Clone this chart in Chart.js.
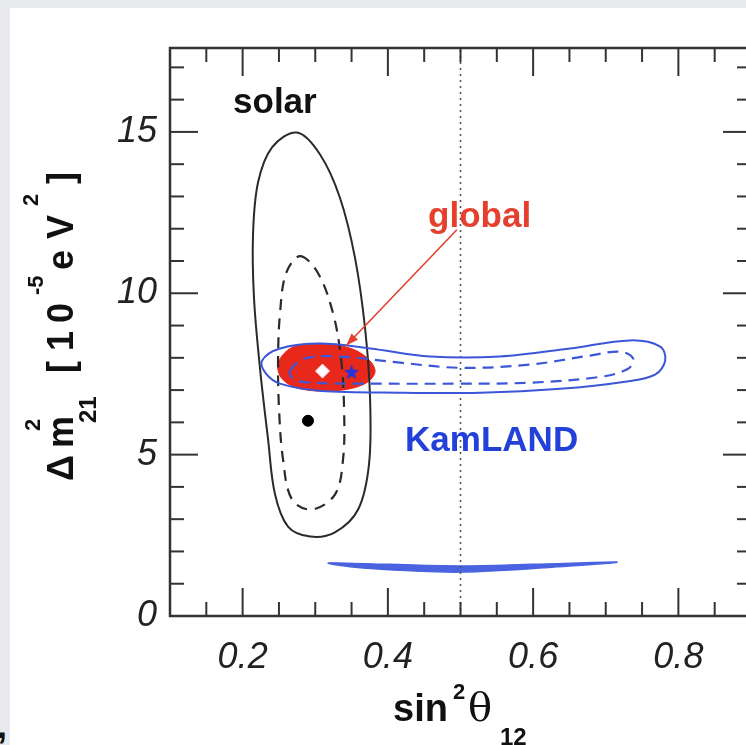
<!DOCTYPE html>
<html>
<head>
<meta charset="utf-8">
<script src="https://cdn.jsdelivr.net/npm/chart.js@4.4.1/dist/chart.umd.min.js"></script>
<style>
  html, body { margin: 0; padding: 0; width: 746px; height: 745px; overflow: hidden; background: #e7e9ed; }
  #sheet { position: absolute; left: 10px; top: 8px; width: 770px; height: 737px; background: #fff; overflow: hidden; }
  #plot { position: absolute; left: -10px; top: -8px; }
  #comma { position: absolute; left: -3px; top: 705px; font: bold 36px "Liberation Sans", Arial, sans-serif; color: #111; }
</style>
</head>
<body>
<div id="sheet"><canvas id="plot" width="780" height="745"></canvas></div>
<div id="comma">,</div>
<script>
// axes: sin^2(theta12) vs dm^2_21 [1e-5 eV^2]
const xRange = [0.1, 0.9];
const yRange = [0, 17.6];
const xTicks = [0.15, 0.2, 0.25, 0.3, 0.35, 0.4, 0.45, 0.5, 0.55, 0.6, 0.65, 0.7, 0.75, 0.8, 0.85];
const xLabelTicks = [0.2, 0.4, 0.6, 0.8];
const yTicks = [1, 2, 3, 4, 5, 6, 7, 8, 9, 10, 11, 12, 13, 14, 15, 16, 17];
const yLabelTicks = [0, 5, 10, 15];

// solar contours
const solarOuterX = [0.275, 0.3066, 0.334, 0.3548, 0.3686, 0.3755, 0.374, 0.359, 0.327, 0.293, 0.2625, 0.2446, 0.235, 0.224, 0.2157, 0.2143, 0.2212, 0.2405];
const solarOuterY = [14.98, 14.30, 12.96, 11.09, 8.91, 6.73, 4.70, 3.30, 2.59, 2.46, 2.77, 3.77, 5.48, 7.66, 9.84, 11.81, 13.43, 14.52];
const solarInnerX = [0.279, 0.3039, 0.3245, 0.3355, 0.3397, 0.3383, 0.3273, 0.2956, 0.268, 0.2556, 0.2501, 0.2488, 0.2515, 0.2598];
const solarInnerY = [11.15, 10.62, 9.38, 7.98, 6.42, 4.86, 3.77, 3.30, 3.61, 4.86, 6.42, 7.98, 9.38, 10.62];

// global fit region
const globalX = [0.2488, 0.2653, 0.2928, 0.3342, 0.3658, 0.3824, 0.3686, 0.3273, 0.279, 0.2543];
const globalY = [7.82, 8.29, 8.44, 8.38, 8.10, 7.60, 7.20, 6.98, 7.04, 7.35];

// KamLAND contours
const kamOuterX = [0.2267, 0.2515, 0.3066, 0.3755, 0.4581, 0.5545, 0.651, 0.7336, 0.775, 0.7818, 0.768, 0.7267, 0.6372, 0.527, 0.4168, 0.3066, 0.2515, 0.2322];
const kamOuterY = [7.91, 8.29, 8.44, 8.29, 8.04, 8.04, 8.29, 8.54, 8.35, 7.91, 7.48, 7.26, 7.04, 6.92, 6.92, 6.98, 7.20, 7.51];
const kamInnerX = [0.2653, 0.286, 0.3342, 0.4168, 0.4994, 0.5959, 0.6785, 0.7198, 0.7377, 0.7308, 0.6923, 0.5959, 0.4994, 0.3893, 0.2928, 0.2694];
const kamInnerY = [7.60, 7.98, 8.04, 7.85, 7.69, 7.79, 8.07, 8.19, 7.98, 7.66, 7.41, 7.23, 7.20, 7.20, 7.23, 7.35];
const kamLowX = [0.318, 0.400, 0.500, 0.600, 0.715, 0.650, 0.500, 0.370];
const kamLowY = [1.64, 1.60, 1.55, 1.60, 1.67, 1.55, 1.36, 1.48];

// best fit points
const solarBest = [0.29, 6.05];
const globalBest = [0.31, 7.59];
const kamBest = [0.35, 7.56];

// arrow from label to global region, maximal mixing line
const arrowX = [0.495, 0.343];
const arrowY = [11.97, 8.39];
const maxMixX = [0.5, 0.5];
const maxMixY = [0, 17.6];

// label anchors (data coords)
const solarLabel = [0.1868, 15.6];
const globalLabel = [0.4554, 12.06];
const kamLabel = [0.4237, 5.12];

const BLACK = "#2a2a2a";
const BLUE = "#3b56d9";
const RED = "#e8281a";
const SANS = '"Liberation Sans", Arial, sans-serif';

const toPts = (xs, ys) => xs.map((x, i) => ({ x: x, y: ys[i] }));

// filled blue star for the KamLAND best fit
const starImg = document.createElement("canvas");
starImg.width = 16;
starImg.height = 16;
(function () {
  const c = starImg.getContext("2d");
  c.fillStyle = "#2233dd";
  c.beginPath();
  for (let k = 0; k < 10; k++) {
    const r = k % 2 === 0 ? 8 : 3.4;
    const a = -Math.PI / 2 + (k * Math.PI) / 5;
    c.lineTo(8 + r * Math.cos(a), 8.5 + r * Math.sin(a));
  }
  c.closePath();
  c.fill();
})();

// make contour lines closed curves
const closedLoops = {
  id: "closedLoops",
  afterDatasetsUpdate(chart) {
    chart.data.datasets.forEach((ds, i) => {
      if (!ds.closed) return;
      const line = chart.getDatasetMeta(i).dataset;
      if (!line) return;
      line._loop = true;
      line._fullLoop = true;
      line._pointsUpdated = false;
      delete line._segments;
      delete line._path;
    });
  },
};

function seg(ctx, x1, y1, x2, y2) {
  ctx.beginPath();
  ctx.moveTo(x1, y1);
  ctx.lineTo(x2, y2);
  ctx.stroke();
}

// pieces of a rich title: text, offset along baseline, size, shift off baseline
function drawPieces(ctx, parts) {
  parts.forEach((p) => {
    ctx.font = (p.w || "bold") + " " + p.s + "px " + (p.f || SANS);
    ctx.fillText(p.t, p.o, p.d || 0);
  });
}

const frame = {
  id: "frame",
  afterDraw(chart) {
    const ctx = chart.ctx;
    const xs = chart.scales.x;
    const ys = chart.scales.y;
    const { left, right, top, bottom } = chart.chartArea;
    ctx.save();
    ctx.strokeStyle = "#333";
    ctx.lineWidth = 2;
    xTicks.forEach((v) => {
      const px = xs.getPixelForValue(v);
      const len = xLabelTicks.includes(v) ? 28 : 14;
      seg(ctx, px, bottom, px, bottom - len);
      seg(ctx, px, top, px, top + len);
    });
    yTicks.forEach((v) => {
      const py = ys.getPixelForValue(v);
      const len = yLabelTicks.includes(v) ? 28 : 14;
      seg(ctx, left, py, left + len, py);
      seg(ctx, right, py, right - len, py);
    });
    ctx.lineWidth = 2.5;
    ctx.strokeRect(left, top, right - left, bottom - top);

    // arrow head
    const x0 = xs.getPixelForValue(arrowX[0]), y0 = ys.getPixelForValue(arrowY[0]);
    const x1 = xs.getPixelForValue(arrowX[1]), y1 = ys.getPixelForValue(arrowY[1]);
    const ang = Math.atan2(y1 - y0, x1 - x0);
    ctx.fillStyle = "#e4402d";
    ctx.beginPath();
    ctx.moveTo(x1, y1);
    ctx.lineTo(x1 - 12 * Math.cos(ang) + 4.5 * Math.sin(ang), y1 - 12 * Math.sin(ang) - 4.5 * Math.cos(ang));
    ctx.lineTo(x1 - 12 * Math.cos(ang) - 4.5 * Math.sin(ang), y1 - 12 * Math.sin(ang) + 4.5 * Math.cos(ang));
    ctx.closePath();
    ctx.fill();

    // region labels
    ctx.textBaseline = "alphabetic";
    ctx.textAlign = "left";
    ctx.font = "bold 35px " + SANS;
    ctx.fillStyle = "#111";
    ctx.fillText("solar", xs.getPixelForValue(solarLabel[0]), ys.getPixelForValue(solarLabel[1]));
    ctx.fillStyle = "#e4402d";
    ctx.fillText("global", xs.getPixelForValue(globalLabel[0]), ys.getPixelForValue(globalLabel[1]));
    ctx.fillStyle = "#2340d8";
    ctx.fillText("KamLAND", xs.getPixelForValue(kamLabel[0]), ys.getPixelForValue(kamLabel[1]));

    // y axis title
    ctx.fillStyle = "#111";
    ctx.save();
    ctx.translate(73, 481);
    ctx.rotate(-Math.PI / 2);
    drawPieces(ctx, [
      { t: "\u0394", o: 0, s: 36 },
      { t: "m", o: 33, s: 36 },
      { t: "2", o: 50, s: 22, d: -33 },
      { t: "21", o: 58, s: 24, d: 23 },
      { t: "[", o: 108, s: 36 },
      { t: "1", o: 130, s: 36 },
      { t: "0", o: 158, s: 36 },
      { t: "-5", o: 186, s: 22, d: -30 },
      { t: "e", o: 211, s: 36 },
      { t: "V", o: 242, s: 36 },
      { t: "2", o: 275, s: 22, d: -35 },
      { t: "]", o: 297, s: 36 },
    ]);
    ctx.restore();

    // x axis title
    ctx.save();
    ctx.translate(393, 721);
    drawPieces(ctx, [
      { t: "sin", o: 0, s: 38 },
      { t: "2", o: 60, s: 22, d: -22 },
      { t: "\u03b8", o: 75, s: 40, w: "normal", f: '"DejaVu Serif", "Liberation Serif", serif' },
      { t: "12", o: 107, s: 24, d: 24 },
    ]);
    ctx.restore();
    ctx.restore();
  },
};

const line = (data, color, width, dash, order) => ({
  data: data,
  showLine: true,
  closed: true,
  borderColor: color,
  borderWidth: width,
  borderDash: dash,
  pointRadius: 0,
  tension: 0.35,
  fill: false,
  order: order,
});

new Chart(document.getElementById("plot"), {
  type: "scatter",
  data: {
    datasets: [
      // filled regions (drawn first)
      Object.assign(line(toPts(globalX, globalY), RED, 1, [], 20), { fill: "shape", backgroundColor: RED }),
      Object.assign(line(toPts(kamLowX, kamLowY), "#4a63e0", 1.5, [], 19), { fill: "shape", backgroundColor: "#4a63e0" }),
      line(toPts(solarOuterX, solarOuterY), BLACK, 2, [], 10),
      line(toPts(solarInnerX, solarInnerY), BLACK, 2.2, [11, 8], 9),
      line(toPts(kamOuterX, kamOuterY), BLUE, 2, [], 8),
      line(toPts(kamInnerX, kamInnerY), BLUE, 2.2, [11, 7], 7),
      {
        data: toPts(maxMixX, maxMixY), showLine: true, borderColor: "#555", borderWidth: 1.6,
        borderDash: [2, 4], pointRadius: 0, order: 15,
      },
      {
        data: toPts(arrowX, arrowY), showLine: true, borderColor: "#e4402d", borderWidth: 1.6,
        pointRadius: 0, order: 6,
      },
      {
        data: [{ x: solarBest[0], y: solarBest[1] }], pointRadius: 5.5, pointStyle: "circle",
        backgroundColor: "#000", borderColor: "#000", order: 3,
      },
      {
        data: [{ x: globalBest[0], y: globalBest[1] }], pointRadius: 7, pointStyle: "rectRot",
        backgroundColor: "#fff", borderColor: "#fde", borderWidth: 1, order: 2,
      },
      {
        data: [{ x: kamBest[0], y: kamBest[1] }], pointStyle: starImg, pointRadius: 8, order: 1,
      },
    ],
  },
  options: {
    responsive: false,
    animation: false,
    events: [],
    layout: { padding: { top: 48, right: 29, left: 0, bottom: 0 } },
    plugins: { legend: { display: false }, tooltip: { enabled: false } },
    scales: {
      x: {
        type: "linear",
        min: xRange[0],
        max: xRange[1],
        grid: { display: false, drawTicks: false },
        border: { display: false },
        afterFit: (scale) => { scale.height = 129; },
        ticks: {
          stepSize: 0.1,
          autoSkip: false,
          maxRotation: 0,
          padding: 20,
          color: "#222",
          font: { family: SANS, size: 36, style: "italic" },
          callback: (v) => (xLabelTicks.some((t) => Math.abs(t - v) < 1e-6) ? Number(v).toFixed(1) : ""),
        },
      },
      y: {
        type: "linear",
        min: yRange[0],
        max: yRange[1],
        grid: { display: false, drawTicks: false },
        border: { display: false },
        afterFit: (scale) => { scale.width = 170; },
        ticks: {
          stepSize: 5,
          autoSkip: false,
          padding: 13,
          color: "#222",
          font: { family: SANS, size: 36, style: "italic" },
          callback: (v) => (yLabelTicks.includes(v) ? String(v) : ""),
        },
      },
    },
  },
  plugins: [closedLoops, frame],
});
</script>
</body>
</html>
